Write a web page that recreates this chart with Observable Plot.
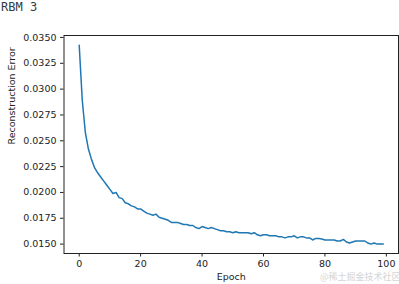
<!DOCTYPE html>
<html>
<head>
<meta charset="utf-8">
<script src="https://cdn.jsdelivr.net/npm/d3@7"></script>
<script src="https://cdn.jsdelivr.net/npm/@observablehq/plot@0.6"></script>
<style>
  html, body { margin: 0; padding: 0; background: #fff; }
  #title { font-family: "DejaVu Sans Mono", monospace; font-size: 12px; line-height: 14px; height: 16px; color: #2f3b45; padding-left: 1px; white-space: pre; }
  #chart { position: relative; width: 399px; height: 268px; }
  #wm { position: absolute; left: 320px; top: 254px; font-family: "Noto Sans CJK SC", sans-serif; font-size: 9px; color: #d4d4d4; white-space: nowrap; }
</style>
</head>
<body>
<div id="title">RBM 3</div>
<div id="chart"></div>
<script>
const title = "RBM 3";
const xLabel = "Epoch";
const yLabel = "Reconstruction Error";
const watermark = "@稀土掘金技术社区";
const xTicks = [0, 20, 40, 60, 80, 100];
const yTicks = [0.0150, 0.0175, 0.0200, 0.0225, 0.0250, 0.0275, 0.0300, 0.0325, 0.0350];
const errors = [
  0.03425, 0.0289, 0.0258, 0.0242, 0.0232, 0.0224, 0.0219, 0.0215, 0.0211, 0.0207,
  0.0203, 0.0199, 0.0200, 0.0195, 0.0194, 0.0190, 0.0189, 0.0187, 0.0186, 0.0184,
  0.0184, 0.0182, 0.0180, 0.0179, 0.0178, 0.0179, 0.0176, 0.0175, 0.0174, 0.0173,
  0.0171, 0.0171, 0.0171, 0.0170, 0.0169, 0.0169, 0.0168, 0.0168, 0.0166, 0.0165,
  0.0167, 0.0166, 0.0165, 0.0166, 0.0165, 0.0164, 0.0163, 0.0163, 0.0162, 0.0162,
  0.0161, 0.0162, 0.0161, 0.0161, 0.0161, 0.0161, 0.0160, 0.0161, 0.0159, 0.0158,
  0.0159, 0.0159, 0.0158, 0.0158, 0.0158, 0.0157, 0.0157, 0.0156, 0.0157, 0.0157,
  0.0158, 0.0156, 0.0157, 0.0157, 0.0156, 0.0156, 0.0154, 0.01555, 0.01555, 0.0155,
  0.0154, 0.0154, 0.0154, 0.0154, 0.0153, 0.0153, 0.01545, 0.0152, 0.0151, 0.0152,
  0.0153, 0.0153, 0.0153, 0.0153, 0.0151, 0.0150, 0.0151, 0.0150, 0.0150, 0.0150
];
const data = errors.map((v, i) => ({epoch: i, err: v}));

const plot = Plot.plot({
  width: 399,
  height: 268,
  marginTop: 19,
  marginBottom: 31,
  marginLeft: 63.5,
  marginRight: 1,
  style: {fontFamily: "DejaVu Sans, sans-serif", fontSize: "9.5px", color: "#222", background: "#fff"},
  x: {domain: [-4.95, 103.95]},
  y: {domain: [0.01409, 0.03519]},
  marks: [
    Plot.frame({stroke: "#222", strokeWidth: 1}),
    Plot.axisX({ticks: xTicks, tickFormat: d => String(d), tickSize: 3.5, tickPadding: 3.5, label: null, stroke: "#222"}),
    Plot.axisY({ticks: yTicks, tickFormat: d3.format(".4f"), tickSize: 3.5, tickPadding: 4, label: null, stroke: "#222"}),
    Plot.line(data, {x: "epoch", y: "err", stroke: "#1f77b4", strokeWidth: 1.5}),
    Plot.text([xLabel], {frameAnchor: "bottom", dy: 26, text: d => d, fontSize: 9.5, fill: "#222"}),
    Plot.text([yLabel], {frameAnchor: "left", dx: -52, rotate: -90, text: d => d, fontSize: 9.5, fill: "#222"})
  ]
});
document.getElementById("chart").appendChild(plot);
const wm = document.createElement("div");
wm.id = "wm";
wm.textContent = watermark;
document.getElementById("chart").appendChild(wm);
</script>
</body>
</html>
